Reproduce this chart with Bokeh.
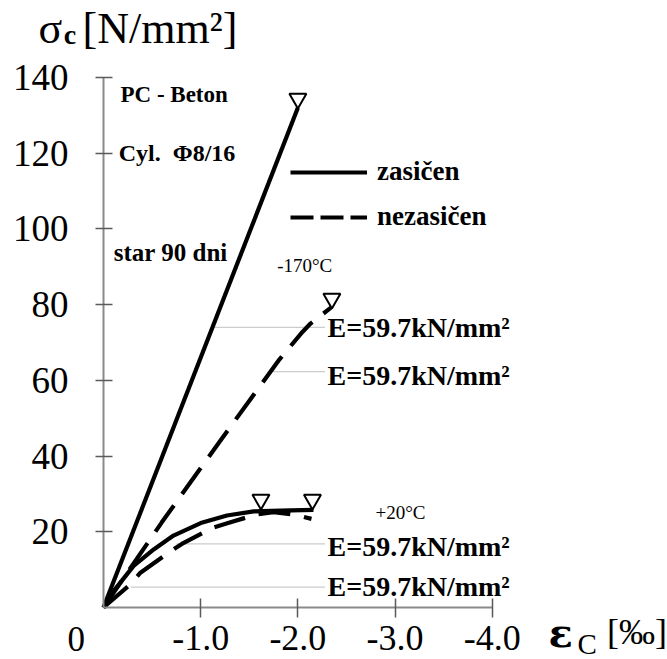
from bokeh.plotting import figure
from bokeh.models import (Range1d, LinearAxis, FixedTicker, NumeralTickFormatter,
                          Label, Legend, LegendItem)
from bokeh.embed import file_html
from bokeh.resources import INLINE

# ---- data ----
# -170 C, saturated (solid) and unsaturated (dashed)
cold_sat_x = [0.0, -2.0]
cold_sat_y = [0.0, 132.0]
cold_unsat_x = [0.0, -0.6, -1.2, -1.8, -2.03, -2.13, -2.34]
cold_unsat_y = [0.0, 22.5, 44.0, 65.2, 72.3, 75.0, 79.2]
# +20 C, saturated (solid) and unsaturated (dashed)
warm_sat_x = [0.0, -0.106, -0.31, -0.52, -0.72, -1.0, -1.27, -1.545, -1.82, -2.16]
warm_sat_y = [0.0, 4.4, 11.0, 15.4, 19.0, 22.3, 24.3, 25.4, 25.6, 25.8]
warm_unsat_x = [0.0, -0.275, -0.38, -0.67, -0.806, -1.115, -1.29, -1.577, -1.75, -1.95, -2.14]
warm_unsat_y = [0.0, 6.1, 9.2, 14.5, 16.8, 21.0, 22.4, 24.6, 25.2, 24.6, 23.4]
# failure markers
fail_x = [-2.0, -2.35, -1.62, -2.15]
fail_y = [134.4, 81.6, 28.5, 28.5]
# modulus leader lines
mod_y = [74.0, 62.3, 16.8, 5.4]
mod_x0 = [-1.11, -1.72, -0.75, -0.28]
mod_x1 = [-2.28, -2.28, -2.28, -2.28]
mod_label = "E=59.7kN/mm²"
mod_label_y = [73.95, 61.25, 16.05, 5.55]
# ticks
y_ticks = [20, 40, 60, 80, 100, 120, 140]
x_ticks = [-1.0, -2.0, -3.0, -4.0]

SERIF = "Liberation Serif"
NAN = float("nan")

p = figure(width=667, height=659, output_backend="svg", toolbar_location=None,
           x_range=Range1d(1.0597, -5.803), y_range=Range1d(-13.736, 160.34),
           x_axis_type=None, y_axis_type=None, min_border=0,
           background_fill_color="white", border_fill_color="white")
p.outline_line_color = None

# axes
yaxis = LinearAxis(fixed_location=0, ticker=FixedTicker(ticks=y_ticks), bounds=(0, 140))
xaxis = LinearAxis(fixed_location=0, ticker=FixedTicker(ticks=x_ticks), bounds=(-4, 0),
                   formatter=NumeralTickFormatter(format="0.0"))
for ax in (xaxis, yaxis):
    ax.axis_line_color = "#8a8a8a"
    ax.axis_line_width = 2
    ax.major_tick_line_color = "#5a5a5a"
    ax.major_tick_line_width = 1.5
    ax.minor_tick_line_color = None
    ax.major_label_text_font = SERIF
    ax.major_label_text_color = "black"
yaxis.major_label_text_font_size = "37px"
xaxis.major_label_text_font_size = "36px"
yaxis.major_tick_in = 9
yaxis.major_tick_out = 8
yaxis.major_label_standoff = 27
xaxis.major_tick_in = 9
xaxis.major_tick_out = 10
xaxis.major_label_standoff = 9
p.add_layout(yaxis, "left")
p.add_layout(xaxis, "below")

# leader lines
p.segment(x0=mod_x0, y0=mod_y, x1=mod_x1, y1=mod_y, line_color="#cccccc", line_width=1.2)

# curves
dash = "32 14"
p.line(cold_sat_x, cold_sat_y, line_color="black", line_width=4.2)
p.line(cold_unsat_x, cold_unsat_y, line_color="black", line_width=4.2, line_dash=dash)
p.line(warm_sat_x, warm_sat_y, line_color="black", line_width=4.2, line_join="round")
p.line(warm_unsat_x, warm_unsat_y, line_color="black", line_width=4.2, line_dash=dash)
p.scatter(fail_x, fail_y, marker="inverted_triangle", size=17,
          fill_color="white", line_color="black", line_width=2)

# legend (sample renderers only, nothing drawn in the plot area)
leg_solid = p.line([NAN], [NAN], line_color="black", line_width=4.2)
leg_dash = p.line([NAN], [NAN], line_color="black", line_width=4.2, line_dash="23 7")
legend = Legend(items=[LegendItem(label="zasičen", renderers=[leg_solid]),
                       LegendItem(label="nezasičen", renderers=[leg_dash])],
                location=(290, 427), glyph_width=77, glyph_height=20,
                label_standoff=10, spacing=14, padding=0, margin=0,
                border_line_color=None, background_fill_alpha=0,
                label_text_font=SERIF, label_text_font_style="bold",
                label_text_font_size="27px", label_text_color="black")
p.add_layout(legend)

def lab(x, y, text, size, style="normal", font=SERIF):
    p.add_layout(Label(x=x, y=y, text=text, text_font=font, text_font_size=size,
                       text_font_style=style, text_color="black",
                       text_baseline="alphabetic", text_align="left"))

# annotations
lab(-0.175, 135.4, "PC - Beton", "23px", "bold")
lab(-0.157, 120.1, "Cyl.\u00a0 Φ8/16", "24px", "bold")
lab(-0.106, 93.9, "star 90 dni", "25px", "bold")
lab(-1.787, 90.3, "-170°C", "19px")
lab(-2.798, 25.1, "+20°C", "19px")
for yy in mod_label_y:
    lab(-2.305, yy, mod_label, "28px", "bold")

# axis titles
lab(0.669, 153.0, "σ", "44px")
lab(0.41, 151.3, "c", "28px", "bold")
lab(0.216, 153.0, "[N/mm²]", "44px")
lab(0.37, -8.2, "0", "35px")
lab(-4.578, -6.6, "ε", "40px", "bold", "DejaVu Serif")
lab(-4.877, -9.6, "C", "29px")
lab(-5.18, -6.4, "[‰]", "36px")

open("out.html", "w").write(file_html(p, INLINE))
